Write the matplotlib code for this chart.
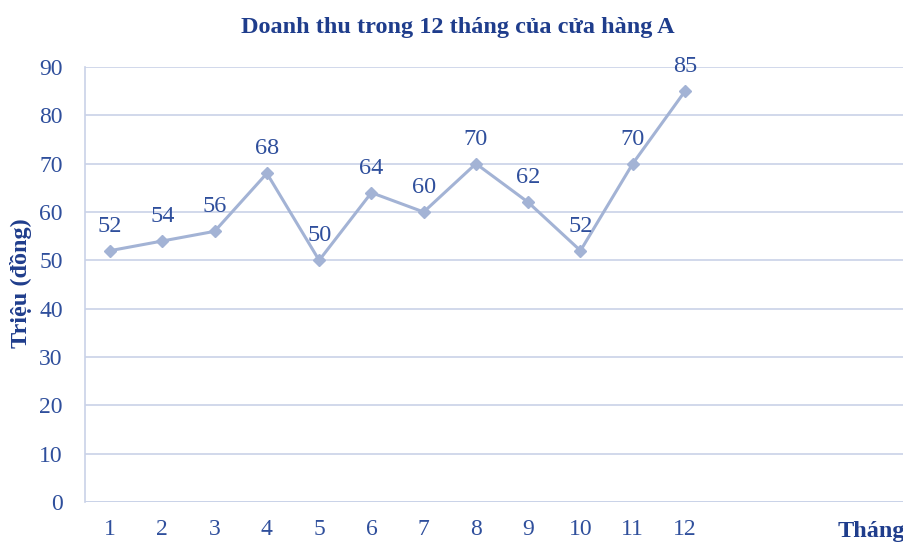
import matplotlib
matplotlib.use("Agg")
import matplotlib.pyplot as plt

months = [1, 2, 3, 4, 5, 6, 7, 8, 9, 10, 11, 12]
revenue = [52, 54, 56, 68, 50, 64, 60, 70, 62, 52, 70, 85]
yticks = [0, 10, 20, 30, 40, 50, 60, 70, 80, 90]

plt.rcParams['font.family'] = ['Liberation Serif', 'DejaVu Serif']

text_c = '#2f4f9c'
title_c = '#1f3d8c'
line_c = '#a3b3d5'
grid_c = '#c9d2e8'

fig = plt.figure(figsize=(9.04, 5.45), dpi=100)
ax = fig.add_axes([85/904, 1-502/545, 1-85/904, (502-67)/545])
ax.plot(months, revenue, color=line_c, lw=2.2, marker='D', ms=6.5, mfc=line_c, mec=line_c, zorder=3)
for m, v in zip(months, revenue):
    ax.annotate(str(v), (m, v), xytext=(0, 10), textcoords='offset points',
                ha='center', va='bottom', fontsize=17.5, color=text_c)

ax.set_xlim(0.52, 16.19)
ax.set_ylim(0, 90)
ax.set_yticks(yticks)
ax.set_xticks(months)
ax.yaxis.grid(True, color=grid_c, lw=1.2)
ax.set_axisbelow(True)
for s in ['top', 'right', 'bottom']:
    ax.spines[s].set_visible(False)
ax.spines['left'].set_color(grid_c)
ax.spines['left'].set_linewidth(1.2)
ax.axhline(0, color=grid_c, lw=1.2, zorder=1)
ax.tick_params(axis='both', length=0, labelsize=17, labelcolor=text_c)
ax.tick_params(axis='x', pad=12)
ax.tick_params(axis='y', pad=16)

fig.text(458/904, 1 - 28/545, 'Doanh thu trong 12 tháng của cửa hàng A', ha='center', va='center',
         fontsize=17.5, fontweight='bold', color=title_c)
fig.text(21/904, 1 - 283/545, 'Triệu (đồng)', rotation=90, ha='center', va='center',
         fontsize=17.5, fontweight='bold', color=title_c)
fig.text(838/904, 1 - 532/545, 'Tháng', ha='left', va='center',
         fontsize=17.5, fontweight='bold', color=title_c)

fig.savefig('out.png', dpi=100)
